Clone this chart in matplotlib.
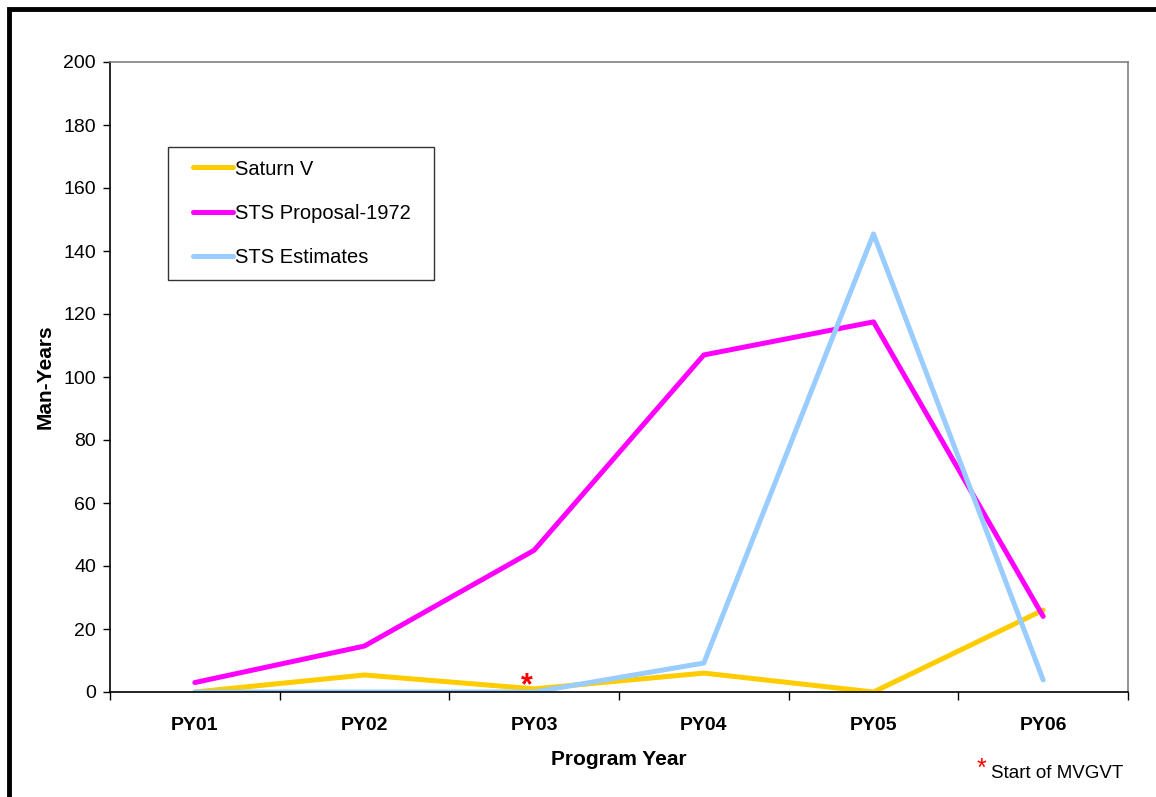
import matplotlib.pyplot as plt
from matplotlib.patches import Rectangle
from matplotlib.legend_handler import HandlerLine2D

plt.rcParams['font.family'] = ['Liberation Sans', 'DejaVu Sans']

years = ['PY01', 'PY02', 'PY03', 'PY04', 'PY05', 'PY06']
saturn_v = [0, 5.4, 1, 6, 0, 26]
sts_proposal = [3, 14.6, 45, 107, 117.5, 24]
sts_estimates = [0, 0, 0, 9.2, 145.4, 3.8]

fig = plt.figure(figsize=(11.56, 7.97), dpi=100)
W, H = 1156, 797
ax = fig.add_axes([110 / W, 1 - 692 / H, 1018 / W, 630 / H])

x = [i + 0.5 for i in range(len(years))]
l1, = ax.plot(x, saturn_v, color='#FFCC00', lw=3.6, label='Saturn V', solid_capstyle='round')
l2, = ax.plot(x, sts_proposal, color='#FF00FF', lw=3.6, label='STS Proposal-1972  ', solid_capstyle='round')
l3, = ax.plot(x, sts_estimates, color='#99CCFF', lw=3.6, label='STS Estimates', solid_capstyle='round')

# marker for start of MVGVT
ax.text(2.458, 1.9, '*', color='red', fontsize=22, fontweight='bold', ha='center', va='center')

ax.set_xlim(0, 6)
ax.set_ylim(0, 200)
ax.set_yticks(range(0, 201, 20))
ax.set_xticks(range(0, 7))
ax.set_xticklabels([])
ax.set_xticks(x, minor=True)
ax.set_xticklabels(years, minor=True, fontweight='bold', fontsize=14)
ax.tick_params(axis='x', which='minor', length=0, pad=18)
ax.tick_params(axis='x', which='major', direction='out', length=6, width=1)
ax.tick_params(axis='y', direction='out', length=5, width=1, labelsize=14, pad=5)

for s in ['top', 'right']:
    ax.spines[s].set_color('#808080')
    ax.spines[s].set_linewidth(1.2)
for s in ['left', 'bottom']:
    ax.spines[s].set_color('black')
    ax.spines[s].set_linewidth(1.2)

ax.set_xlabel('Program Year', fontweight='bold', fontsize=15)
ax.set_ylabel('Man-Years', fontweight='bold', fontsize=15)
ax.xaxis.set_label_coords(0.5, -0.092)
ax.yaxis.set_label_coords(-0.054, 0.5)

hmap = {h: HandlerLine2D(xpad=0.6) for h in (l1, l2, l3)}
leg = ax.legend(loc='upper left', bbox_to_anchor=(0.057, 0.865), fontsize=14.5,
                frameon=True, fancybox=False, edgecolor='black', handlelength=2.6,
                handletextpad=0.1, labelspacing=1.26, borderpad=0.62, borderaxespad=0,
                handler_map=hmap)
leg.get_frame().set_linewidth(1.0)

fig.text(986 / W, 1 - 769 / H, '*', color='red', fontsize=18, ha='right', va='center')
fig.text(991 / W, 1 - 773 / H, 'Start of MVGVT', fontsize=13.5, ha='left', va='center')

# outer frame
fig.patches.append(Rectangle((9 / W, -0.05), 1.1, 1 - 9 / H + 0.05, transform=fig.transFigure,
                             fill=False, edgecolor='black', lw=3.5))

fig.savefig('out.png', dpi=100)
